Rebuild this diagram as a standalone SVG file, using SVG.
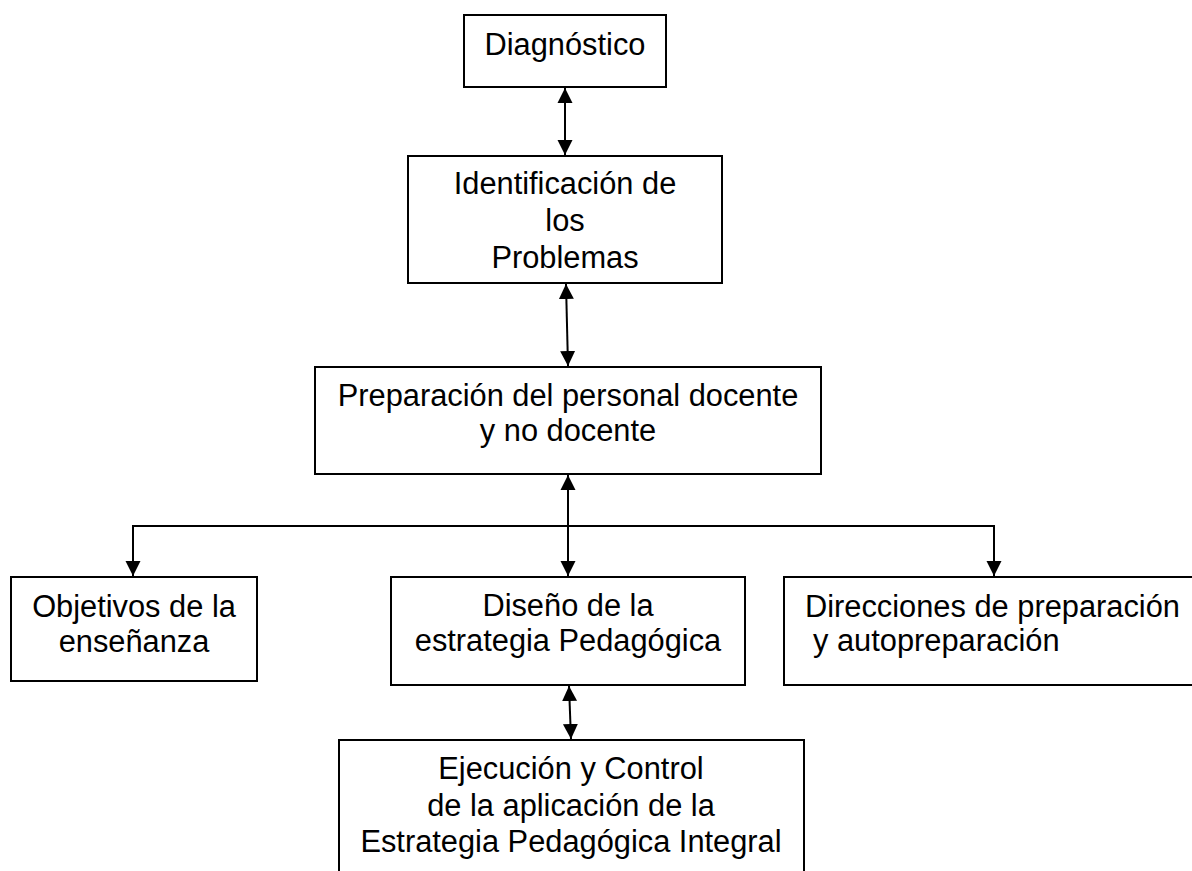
<svg xmlns="http://www.w3.org/2000/svg" width="1192" height="871" viewBox="0 0 1192 871">
<style>
.box{fill:#fff;stroke:#000;stroke-width:2}
.t{font-family:"Liberation Sans",Arial,sans-serif;font-size:30.8px;fill:#000;text-anchor:middle}
.s{text-anchor:start}
.c{fill:none;stroke:#000;stroke-width:2}
</style>
<defs>
<marker id="ah" markerUnits="userSpaceOnUse" markerWidth="16" markerHeight="16" viewBox="0 0 16 16" refX="15" refY="8" orient="auto-start-reverse">
<path d="M0,0.5 L15,8 L0,15.5 Z" fill="#000"/>
</marker>
</defs>
<rect width="1192" height="871" fill="#fff"/>
<g id="connectors">
<line class="c" x1="565" y1="88" x2="565" y2="155" marker-start="url(#ah)" marker-end="url(#ah)"/>
<line class="c" x1="566" y1="284" x2="568" y2="366" marker-start="url(#ah)" marker-end="url(#ah)"/>
<line class="c" x1="568" y1="475" x2="568" y2="576" marker-start="url(#ah)" marker-end="url(#ah)"/>
<polyline class="c" points="133,576 133,526 994,526 994,576" marker-start="url(#ah)" marker-end="url(#ah)"/>
<line class="c" x1="569" y1="686" x2="571" y2="739" marker-start="url(#ah)" marker-end="url(#ah)"/>
</g>
<g id="diagnostico">
<rect class="box" x="464" y="15" width="202" height="72"/>
<text class="t" x="565" y="55">Diagnóstico</text>
</g>
<g id="identificacion">
<rect class="box" x="408" y="156" width="314" height="127"/>
<text class="t" x="565" y="194">Identificación de</text>
<text class="t" x="565" y="231">los</text>
<text class="t" x="565" y="268">Problemas</text>
</g>
<g id="preparacion">
<rect class="box" x="315" y="367" width="506" height="107"/>
<text class="t" x="568" y="406">Preparación del personal docente</text>
<text class="t" x="568" y="441">y no docente</text>
</g>
<g id="objetivos">
<rect class="box" x="11" y="577" width="246" height="104"/>
<text class="t" x="134" y="617">Objetivos de la</text>
<text class="t" x="134" y="652">enseñanza</text>
</g>
<g id="diseno">
<rect class="box" x="391" y="577" width="354" height="108"/>
<text class="t" x="568" y="616">Diseño de la</text>
<text class="t" x="568" y="651">estrategia Pedagógica</text>
</g>
<g id="direcciones">
<rect class="box" x="784" y="577" width="412" height="108"/>
<text class="t s" x="805" y="617">Direcciones de preparación</text>
<text class="t s" x="813" y="651">y autopreparación</text>
</g>
<g id="ejecucion">
<rect class="box" x="339" y="740" width="465" height="145"/>
<text class="t" x="571" y="779">Ejecución y Control</text>
<text class="t" x="571" y="816">de la aplicación de la</text>
<text class="t" x="571" y="852">Estrategia Pedagógica Integral</text>
</g>
</svg>
